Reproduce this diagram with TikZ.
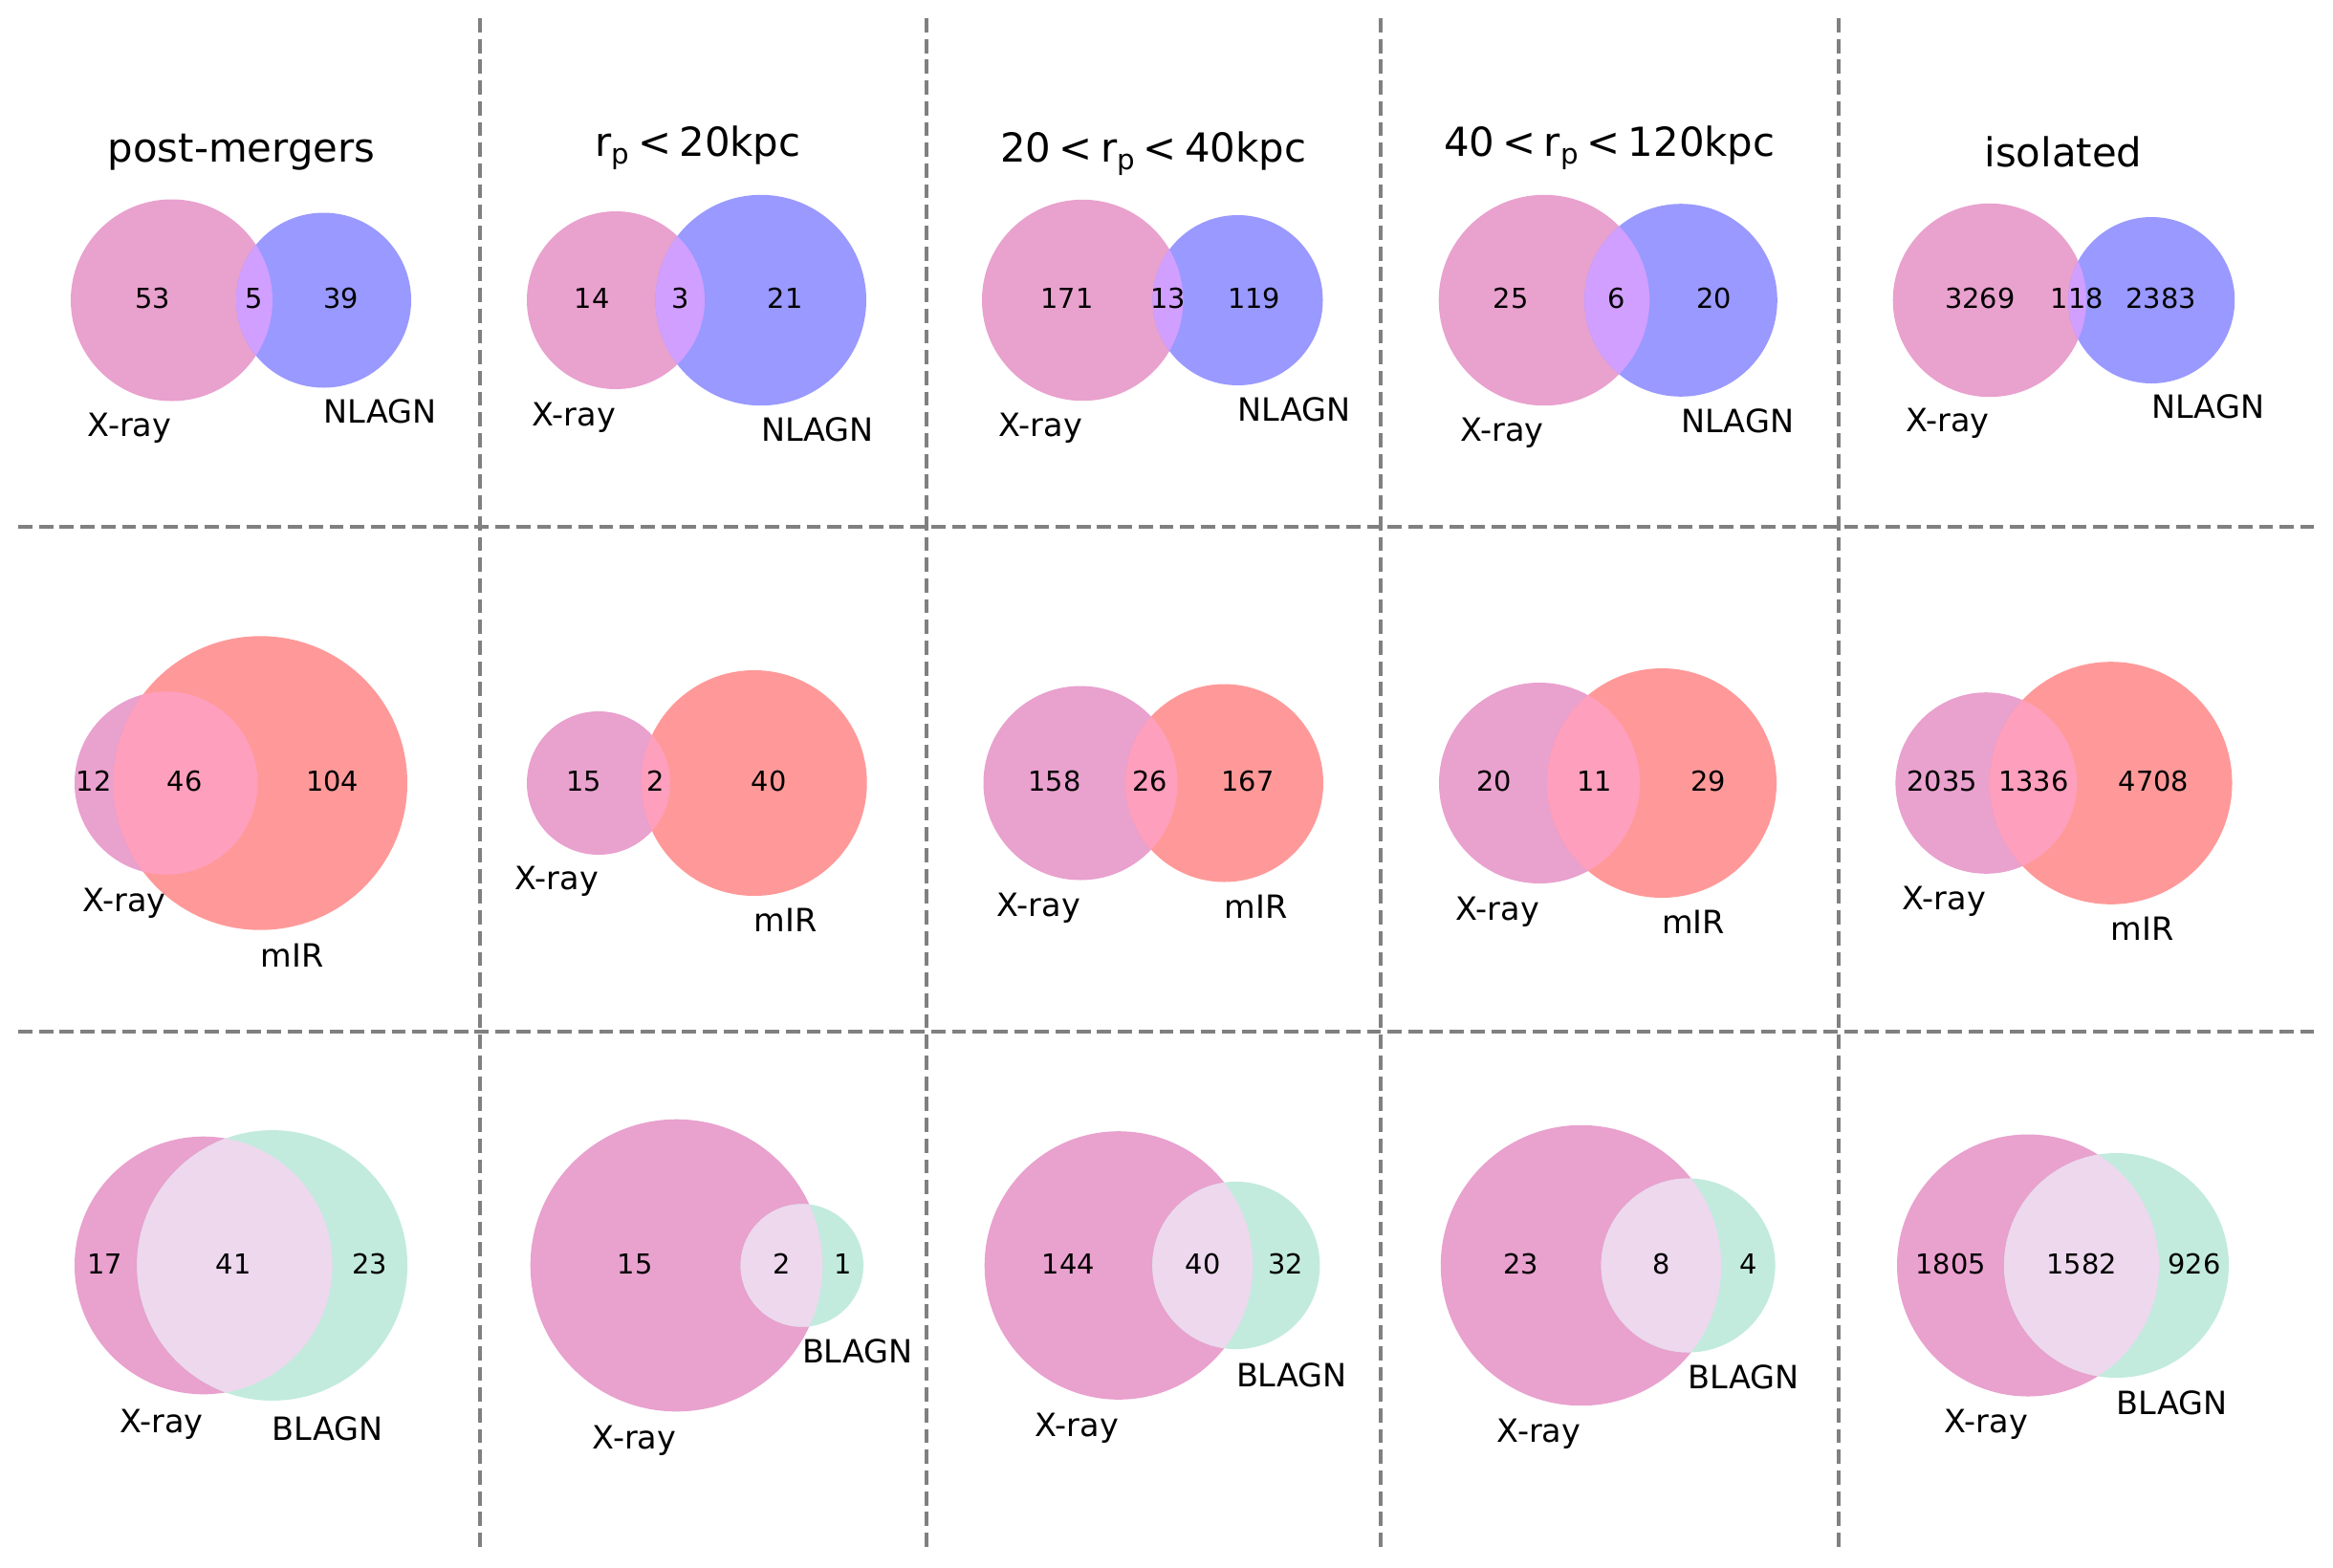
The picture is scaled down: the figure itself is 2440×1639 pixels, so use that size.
\documentclass[tikz,border=0pt]{standalone}
\usepackage{fontspec}
\setmainfont{DejaVu Sans}
\definecolor{xray}{RGB}{233,161,206}
\definecolor{nl}{RGB}{153,153,255}
\definecolor{mir}{RGB}{255,153,153}
\definecolor{bl}{RGB}{194,235,221}
\definecolor{xn}{RGB}{209,159,255}
\definecolor{xm}{RGB}{255,159,190}
\definecolor{xb}{RGB}{237,216,238}
\definecolor{sepgray}{RGB}{128,128,128}
\newcommand{\vpair}[7]{%
  \fill[xray] (#1,#2) circle[radius=#3];
  \fill[#6] (#4,#2) circle[radius=#5];
  \begin{scope}
    \clip (#1,#2) circle[radius=#3];
    \fill[#7] (#4,#2) circle[radius=#5];
  \end{scope}}
\newcommand{\rlt}{\hspace{0.2em}<\hspace{0.2em}}
\tikzset{
  num/.style={anchor=base, inner sep=0pt, font=\fontsize{28.8}{34}\selectfont},
  lblA/.style={anchor=base east, inner sep=0pt, font=\fontsize{33.5}{40}\selectfont},
  lblB/.style={anchor=base west, inner sep=0pt, font=\fontsize{33.5}{40}\selectfont},
  ttl/.style={anchor=base, inner sep=0pt, font=\fontsize{41.8}{48}\selectfont},
  sepline/.style={draw=sepgray, line width=4pt, dash pattern=on 14.8pt off 6.9pt}
}
\begin{document}
\begin{tikzpicture}[x=1pt,y=-1pt]
\useasboundingbox[fill=white] (0,0) rectangle (2440,1639);

% separators
\coordinate (v1t) at (501.7,19);  \coordinate (v1b) at (501.7,1618);
\coordinate (v2t) at (968.5,19);  \coordinate (v2b) at (968.5,1618);
\coordinate (v3t) at (1444,19);   \coordinate (v3b) at (1444,1618);
\coordinate (v4t) at (1923,19);   \coordinate (v4b) at (1923,1618);
\coordinate (h1l) at (19,551);    \coordinate (h1r) at (2420,551);
\coordinate (h2l) at (19,1079);   \coordinate (h2r) at (2420,1079);
\draw[sepline] (v1t) -- (v1b);
\draw[sepline] (v2t) -- (v2b);
\draw[sepline] (v3t) -- (v3b);
\draw[sepline] (v4t) -- (v4b);
\draw[sepline] (h1l) -- (h1r);
\draw[sepline] (h2l) -- (h2r);

% ---------- row 1: X-ray vs NLAGN ----------
\vpair{179.5}{314}{105.5}{338.5}{91.5}{nl}{xn}
\vpair{644}{314}{93}{795.8}{110.2}{nl}{xn}
\vpair{1132.2}{314}{105.2}{1294.5}{89}{nl}{xn}
\vpair{1614.9}{314}{110.2}{1758}{100.8}{nl}{xn}
\vpair{2080.9}{314}{101.2}{2250.2}{87}{nl}{xn}

\node[ttl] (t1) at (252.5,169.3) {post-mergers};
\node[ttl] (t2) at (730,163.3) {r\textsubscript{p}\rlt 20kpc};
\node[ttl] (t3) at (1206.3,169.3) {20\rlt r\textsubscript{p}\rlt 40kpc};
\node[ttl] (t4) at (1683.3,163.3) {40\rlt r\textsubscript{p}\rlt 120kpc};
\node[ttl] (t5) at (2157.8,174) {isolated};

\node[num] (n11a) at (160,322.7) {53};
\node[num] (n11b) at (266,322.7) {5};
\node[num] (n11c) at (357,322.7) {39};
\node[num] (n12a) at (619,322.7) {14};
\node[num] (n12b) at (711.7,322.7) {3};
\node[num] (n12c) at (821,322.7) {21};
\node[num] (n13a) at (1116,322.7) {171};
\node[num] (n13b) at (1221.7,322.7) {13};
\node[num] (n13c) at (1311.7,322.7) {119};
\node[num] (n14a) at (1580,322.7) {25};
\node[num] (n14b) at (1690.7,322.7) {6};
\node[num] (n14c) at (1792.7,322.7) {20};
\node[num] (n15a) at (2070.7,322.7) {3269};
\node[num] (n15b) at (2172.3,322.7) {118};
\node[num] (n15c) at (2260,322.7) {2383};

\node[lblA] (x11) at (179.5,456.7) {X-ray};
\node[lblB] (s11) at (338.5,442.7) {NLAGN};
\node[lblA] (x12) at (644,445) {X-ray};
\node[lblB] (s12) at (795.8,461.7) {NLAGN};
\node[lblA] (x13) at (1132.2,456.7) {X-ray};
\node[lblB] (s13) at (1294.5,440.7) {NLAGN};
\node[lblA] (x14) at (1614.9,461.7) {X-ray};
\node[lblB] (s14) at (1758,452.7) {NLAGN};
\node[lblA] (x15) at (2080.9,451.7) {X-ray};
\node[lblB] (s15) at (2250.2,437.3) {NLAGN};

% ---------- row 2: X-ray vs mIR ----------
\vpair{173.7}{819}{95.7}{272.3}{153.7}{mir}{xm}
\vpair{626}{819}{75}{788.7}{118}{mir}{xm}
\vpair{1130}{819}{101.5}{1280.5}{103.5}{mir}{xm}
\vpair{1610}{819}{105}{1738}{120}{mir}{xm}
\vpair{2077.2}{819}{94.8}{2207.7}{126.8}{mir}{xm}

\node[num] (n21a) at (98.3,827.7) {12};
\node[num] (n21b) at (193.3,827.7) {46};
\node[num] (n21c) at (347.7,827.7) {104};
\node[num] (n22a) at (610.7,827.7) {15};
\node[num] (n22b) at (685.7,827.7) {2};
\node[num] (n22c) at (804,827.7) {40};
\node[num] (n23a) at (1103,827.7) {158};
\node[num] (n23b) at (1202.5,827.7) {26};
\node[num] (n23c) at (1305,827.7) {167};
\node[num] (n24a) at (1562.6,827.7) {20};
\node[num] (n24b) at (1667.3,827.7) {11};
\node[num] (n24c) at (1786.7,827.7) {29};
\node[num] (n25a) at (2031,827.7) {2035};
\node[num] (n25b) at (2126.7,827.7) {1336};
\node[num] (n25c) at (2252.3,827.7) {4708};

\node[lblA] (x21) at (173.7,953.3) {X-ray};
\node[lblB] (s21) at (272.3,1011) {mIR};
\node[lblA] (x22) at (626,930.7) {X-ray};
\node[lblB] (s22) at (788.7,974) {mIR};
\node[lblA] (x23) at (1130,958) {X-ray};
\node[lblB] (s23) at (1280.5,960) {mIR};
\node[lblA] (x24) at (1610,962) {X-ray};
\node[lblB] (s24) at (1738,976) {mIR};
\node[lblA] (x25) at (2077.2,951.7) {X-ray};
\node[lblB] (s25) at (2207.7,983.3) {mIR};

% ---------- row 3: X-ray vs BLAGN ----------
\vpair{212.8}{1323.5}{134.8}{284.7}{141.4}{bl}{xb}
\vpair{707.5}{1323.5}{152.8}{838.8}{64.2}{bl}{xb}
\vpair{1170}{1323.5}{140.3}{1292.8}{87.6}{bl}{xb}
\vpair{1653.5}{1323.5}{146.7}{1765.6}{91}{bl}{xb}
\vpair{2121}{1323.5}{137}{2213.5}{117.5}{bl}{xb}

\node[num] (n31a) at (110,1332.3) {17};
\node[num] (n31b) at (244.3,1332.3) {41};
\node[num] (n31c) at (386.7,1332.3) {23};
\node[num] (n32a) at (664.3,1332.3) {15};
\node[num] (n32b) at (817.3,1332.3) {2};
\node[num] (n32c) at (881.7,1332.3) {1};
\node[num] (n33a) at (1117.4,1332.3) {144};
\node[num] (n33b) at (1258,1332.3) {40};
\node[num] (n33c) at (1344.6,1332.3) {32};
\node[num] (n34a) at (1590.7,1332.3) {23};
\node[num] (n34b) at (1737.7,1332.3) {8};
\node[num] (n34c) at (1828.3,1332.3) {4};
\node[num] (n35a) at (2040,1332.3) {1805};
\node[num] (n35b) at (2177,1332.3) {1582};
\node[num] (n35c) at (2295,1332.3) {926};

\node[lblA] (x31) at (212.8,1498.3) {X-ray};
\node[lblB] (s31) at (284.7,1506) {BLAGN};
\node[lblA] (x32) at (707.5,1515) {X-ray};
\node[lblB] (s32) at (838.8,1425.7) {BLAGN};
\node[lblA] (x33) at (1170,1502) {X-ray};
\node[lblB] (s33) at (1292.8,1450) {BLAGN};
\node[lblA] (x34) at (1653.5,1508) {X-ray};
\node[lblB] (s34) at (1765.6,1452.5) {BLAGN};
\node[lblA] (x35) at (2121,1498.5) {X-ray};
\node[lblB] (s35) at (2213.5,1479) {BLAGN};
\end{tikzpicture}
\end{document}
